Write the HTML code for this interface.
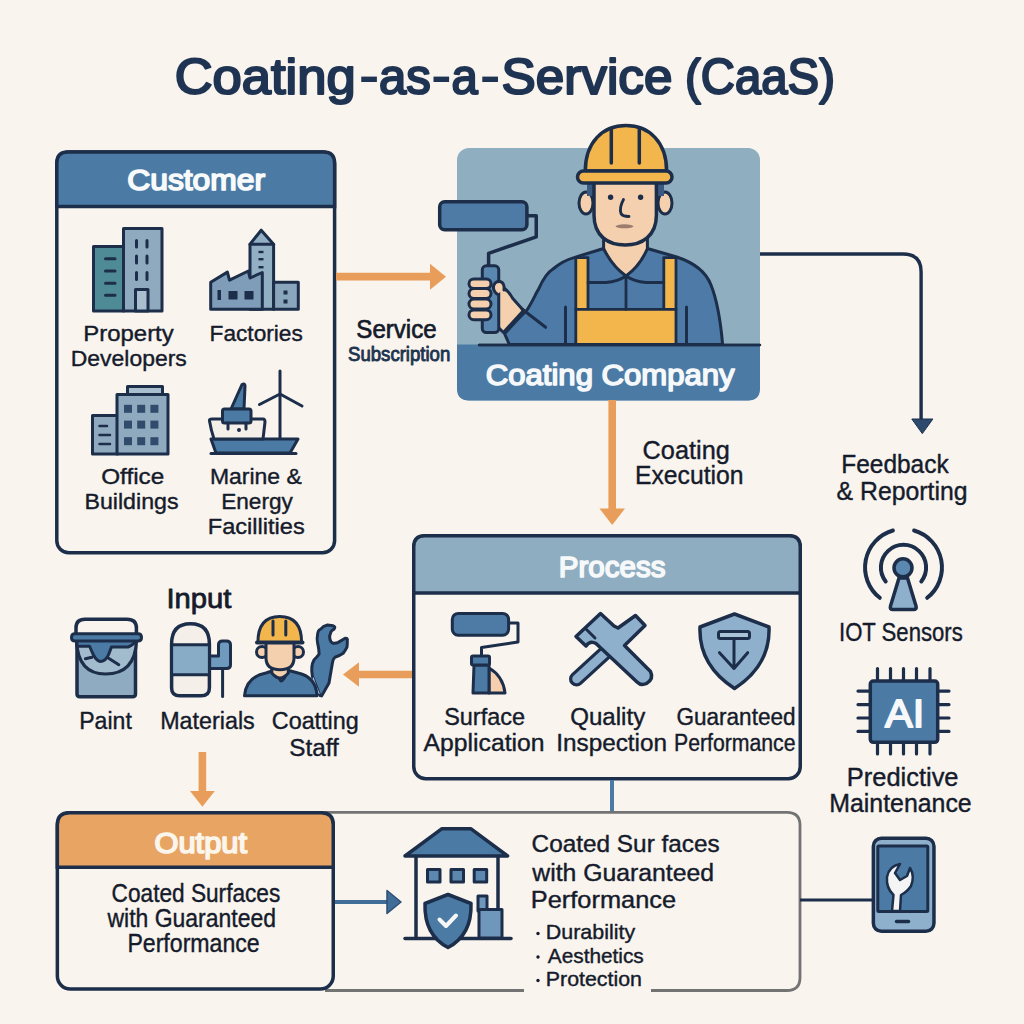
<!DOCTYPE html>
<html><head><meta charset="utf-8"><style>
html,body{margin:0;padding:0;background:#f9f4ee;}
svg{display:block;}
text{font-family:"Liberation Sans",sans-serif;}
</style></head><body>
<svg width="1024" height="1024" viewBox="0 0 1024 1024">
<rect width="1024" height="1024" fill="#f9f4ee"/>
<text transform="translate(174.70 93.70) scale(1.0594 1)" font-size="49.57" font-weight="normal" fill="#1f3352" stroke="#1f3352" stroke-width="2.20" stroke-linejoin="round">Coating</text>
<text transform="translate(379.10 93.70) scale(0.9897 1)" font-size="49.57" font-weight="normal" fill="#1f3352" stroke="#1f3352" stroke-width="2.20" stroke-linejoin="round">as</text>
<text transform="translate(451.60 93.70) scale(0.9526 1)" font-size="49.57" font-weight="normal" fill="#1f3352" stroke="#1f3352" stroke-width="2.20" stroke-linejoin="round">a</text>
<text transform="translate(501.50 93.70) scale(1.0345 1)" font-size="49.57" font-weight="normal" fill="#1f3352" stroke="#1f3352" stroke-width="2.20" stroke-linejoin="round">Service</text>
<text transform="translate(685.10 93.70) scale(0.9540 1)" font-size="49.57" font-weight="normal" fill="#1f3352" stroke="#1f3352" stroke-width="2.20" stroke-linejoin="round">(CaaS)</text>
<rect x="361.25" y="76.6" width="15.65" height="5.4" fill="#1f3352"/>
<rect x="433.5" y="76.6" width="15.60" height="5.4" fill="#1f3352"/>
<rect x="482.3" y="76.6" width="15.70" height="5.4" fill="#1f3352"/>
<rect x="56.8" y="152" width="277.8" height="400.8" rx="12" fill="#f9f4ee" stroke="#1c2e4a" stroke-width="3.5"/>
<path d="M56.8,206.6 V163 Q56.8,152 67.8,152 H323.6 Q334.6,152 334.6,163 V206.6 Z" fill="#4b7ba5" stroke="#1c2e4a" stroke-width="3.5"/>
<text transform="translate(127.25 190.00) scale(1.0553 1)" font-size="30.14" font-weight="normal" fill="#f8fafb" stroke="#f8fafb" stroke-width="1.70" stroke-linejoin="round">Customer</text>
<line x1="336" y1="276.6" x2="432" y2="276.6" stroke="#e89e5a" stroke-width="7.6"/>
<path d="M430,263.7 L446,276.7 L430,289.7 Z" fill="#e89e5a"/>
<rect x="457" y="148" width="303" height="252.5" rx="12" fill="#8faec0"/>
<path d="M457,344.5 H760 V388.5 Q760,400.5 748,400.5 H469 Q457,400.5 457,388.5 Z" fill="#4b7ba5"/>
<line x1="479" y1="344.9" x2="760" y2="344.9" stroke="#1c2e4a" stroke-width="2.5"/>
<text transform="translate(485.80 385.30) scale(1.0312 1)" font-size="30.14" font-weight="normal" fill="#f6f8fa" stroke="#f6f8fa" stroke-width="1.60" stroke-linejoin="round">Coating Company</text>
<line x1="612.2" y1="400" x2="612.2" y2="510" stroke="#e89e5a" stroke-width="7.6"/>
<path d="M599.5,508.4 L625,508.4 L612.2,525 Z" fill="#e89e5a"/>
<path d="M760,254 H903 Q921.1,254 921.1,272 V420" fill="none" stroke="#1c2e4a" stroke-width="3.4"/>
<path d="M911.8,419 L932.9,419 L922.3,433.6 Z" fill="#2d4a6e" stroke="#1c2e4a" stroke-width="1"/>
<rect x="413.75" y="535.75" width="386.5" height="243" rx="12" fill="#f9f4ee" stroke="#1c2e4a" stroke-width="3.5"/>
<path d="M413.75,593 V546.75 Q413.75,535.75 424.75,535.75 H789.25 Q800.25,535.75 800.25,546.75 V593 Z" fill="#8eadc0" stroke="#1c2e4a" stroke-width="3.5"/>
<text transform="translate(558.85 577.40) scale(0.9706 1)" font-size="30.43" font-weight="normal" fill="#f6f8fa" stroke="#f6f8fa" stroke-width="1.70" stroke-linejoin="round">Process</text>
<line x1="358" y1="674.5" x2="412" y2="674.5" stroke="#e89e5a" stroke-width="7.5"/>
<path d="M359,662.3 L343,674.5 L359,686.7 Z" fill="#e89e5a"/>
<line x1="202.4" y1="752" x2="202.4" y2="793" stroke="#e89e5a" stroke-width="7.6"/>
<path d="M190,791 L214.8,791 L202.4,806.8 Z" fill="#e89e5a"/>
<line x1="612" y1="780" x2="612" y2="813" stroke="#4a7aa5" stroke-width="4"/>
<path d="M325,812.3 H787 Q800,812.3 800,825.3 V977.5 Q800,990.5 787,990.5 H651 M524,990.5 H325" fill="none" stroke="#737373" stroke-width="2.8"/>
<line x1="800" y1="900" x2="872" y2="900" stroke="#1c2e4a" stroke-width="3"/>
<rect x="57.35" y="812.75" width="275.9" height="176.2" rx="13" fill="#f9f4ee" stroke="#1c2e4a" stroke-width="3.5"/>
<path d="M57.35,867.2 V824.75 Q57.35,812.75 69.35,812.75 H321.25 Q333.25,812.75 333.25,824.75 V867.2 Z" fill="#e8a462" stroke="#1c2e4a" stroke-width="3.5"/>
<text transform="translate(154.45 853.00) scale(1.0496 1)" font-size="29.42" font-weight="normal" fill="#fbf5ec" stroke="#fbf5ec" stroke-width="1.70" stroke-linejoin="round">Output</text>
<line x1="335" y1="902" x2="390" y2="902" stroke="#3f6d98" stroke-width="4"/>
<path d="M387,890.5 L401,902 L387,913.5 Z" fill="#3f6d98" stroke="#2d4f74" stroke-width="1.5" stroke-linejoin="round"/>
<text transform="translate(83.20 340.50) scale(1.0517 1)" font-size="22.80" font-weight="normal" fill="#151b2b" stroke="#151b2b" stroke-width="0.40" stroke-linejoin="round">Property</text>
<text transform="translate(70.80 365.50) scale(1.0060 1)" font-size="22.80" font-weight="normal" fill="#151b2b" stroke="#151b2b" stroke-width="0.40" stroke-linejoin="round">Developers</text>
<text transform="translate(209.60 341.00) scale(0.9942 1)" font-size="22.80" font-weight="normal" fill="#151b2b" stroke="#151b2b" stroke-width="0.40" stroke-linejoin="round">Factories</text>
<text transform="translate(101.20 484.40) scale(1.0653 1)" font-size="22.80" font-weight="normal" fill="#151b2b" stroke="#151b2b" stroke-width="0.40" stroke-linejoin="round">Office</text>
<text transform="translate(84.40 509.00) scale(1.0183 1)" font-size="22.80" font-weight="normal" fill="#151b2b" stroke="#151b2b" stroke-width="0.40" stroke-linejoin="round">Buildings</text>
<text transform="translate(210.00 484.40) scale(1.0062 1)" font-size="22.80" font-weight="normal" fill="#151b2b" stroke="#151b2b" stroke-width="0.40" stroke-linejoin="round">Marine &amp;</text>
<text transform="translate(221.20 509.00) scale(0.9914 1)" font-size="22.80" font-weight="normal" fill="#151b2b" stroke="#151b2b" stroke-width="0.40" stroke-linejoin="round">Energy</text>
<text transform="translate(207.80 534.00) scale(1.0348 1)" font-size="22.80" font-weight="normal" fill="#151b2b" stroke="#151b2b" stroke-width="0.40" stroke-linejoin="round">Facillities</text>
<text transform="translate(356.35 338.00) scale(0.9548 1)" font-size="25.22" font-weight="normal" fill="#151b2b" stroke="#151b2b" stroke-width="0.70" stroke-linejoin="round">Service</text>
<text transform="translate(348.05 361.00) scale(0.9432 1)" font-size="19.71" font-weight="normal" fill="#1e3550" stroke="#1e3550" stroke-width="0.90" stroke-linejoin="round">Subscription</text>
<text transform="translate(642.60 458.60) scale(0.9617 1)" font-size="26.30" font-weight="normal" fill="#151b2b" stroke="#151b2b" stroke-width="0.40" stroke-linejoin="round">Coating</text>
<text transform="translate(635.00 483.80) scale(0.9400 1)" font-size="26.30" font-weight="normal" fill="#151b2b" stroke="#151b2b" stroke-width="0.40" stroke-linejoin="round">Execution</text>
<text transform="translate(841.20 473.00) scale(0.9722 1)" font-size="25.19" font-weight="normal" fill="#151b2b" stroke="#151b2b" stroke-width="0.40" stroke-linejoin="round">Feedback</text>
<text transform="translate(836.60 499.50) scale(0.9848 1)" font-size="25.19" font-weight="normal" fill="#151b2b" stroke="#151b2b" stroke-width="0.40" stroke-linejoin="round">&amp; Reporting</text>
<text transform="translate(166.40 608.00) scale(1.0449 1)" font-size="27.97" font-weight="normal" fill="#151b2b" stroke="#151b2b" stroke-width="0.80" stroke-linejoin="round">Input</text>
<text transform="translate(79.20 729.40) scale(0.9463 1)" font-size="24.39" font-weight="normal" fill="#151b2b" stroke="#151b2b" stroke-width="0.40" stroke-linejoin="round">Paint</text>
<text transform="translate(160.20 729.00) scale(0.9560 1)" font-size="24.39" font-weight="normal" fill="#151b2b" stroke="#151b2b" stroke-width="0.40" stroke-linejoin="round">Materials</text>
<text transform="translate(271.80 729.00) scale(0.9575 1)" font-size="24.39" font-weight="normal" fill="#151b2b" stroke="#151b2b" stroke-width="0.40" stroke-linejoin="round">Coatting</text>
<text transform="translate(289.20 755.80) scale(0.9963 1)" font-size="24.39" font-weight="normal" fill="#151b2b" stroke="#151b2b" stroke-width="0.40" stroke-linejoin="round">Staff</text>
<text transform="translate(444.20 725.00) scale(0.9676 1)" font-size="24.23" font-weight="normal" fill="#151b2b" stroke="#151b2b" stroke-width="0.40" stroke-linejoin="round">Surface</text>
<text transform="translate(423.60 750.50) scale(1.0207 1)" font-size="24.23" font-weight="normal" fill="#151b2b" stroke="#151b2b" stroke-width="0.40" stroke-linejoin="round">Application</text>
<text transform="translate(570.20 725.00) scale(0.9946 1)" font-size="24.23" font-weight="normal" fill="#151b2b" stroke="#151b2b" stroke-width="0.40" stroke-linejoin="round">Quality</text>
<text transform="translate(556.20 750.50) scale(1.0048 1)" font-size="24.23" font-weight="normal" fill="#151b2b" stroke="#151b2b" stroke-width="0.40" stroke-linejoin="round">Inspection</text>
<text transform="translate(676.40 725.00) scale(0.9313 1)" font-size="24.23" font-weight="normal" fill="#151b2b" stroke="#151b2b" stroke-width="0.40" stroke-linejoin="round">Guaranteed</text>
<text transform="translate(674.00 750.50) scale(0.8765 1)" font-size="24.23" font-weight="normal" fill="#151b2b" stroke="#151b2b" stroke-width="0.40" stroke-linejoin="round">Performance</text>
<text transform="translate(839.00 641.00) scale(0.8675 1)" font-size="25.51" font-weight="normal" fill="#151b2b" stroke="#151b2b" stroke-width="0.40" stroke-linejoin="round">IOT Sensors</text>
<text transform="translate(846.80 786.00) scale(0.9982 1)" font-size="25.51" font-weight="normal" fill="#151b2b" stroke="#151b2b" stroke-width="0.40" stroke-linejoin="round">Predictive</text>
<text transform="translate(829.20 812.00) scale(0.9763 1)" font-size="25.51" font-weight="normal" fill="#151b2b" stroke="#151b2b" stroke-width="0.40" stroke-linejoin="round">Maintenance</text>
<text transform="translate(111.60 901.80) scale(0.8884 1)" font-size="25.51" font-weight="normal" fill="#151b2b" stroke="#151b2b" stroke-width="0.40" stroke-linejoin="round">Coated Surfaces</text>
<text transform="translate(107.45 927.20) scale(0.9005 1)" font-size="25.51" font-weight="normal" fill="#151b2b" stroke="#151b2b" stroke-width="0.40" stroke-linejoin="round">with Guaranteed</text>
<text transform="translate(127.40 951.60) scale(0.9067 1)" font-size="25.51" font-weight="normal" fill="#151b2b" stroke="#151b2b" stroke-width="0.40" stroke-linejoin="round">Performance</text>
<text transform="translate(531.60 851.80) scale(1.0198 1)" font-size="23.88" font-weight="normal" fill="#151b2b" stroke="#151b2b" stroke-width="0.40" stroke-linejoin="round">Coated Sur faces</text>
<text transform="translate(532.25 880.50) scale(1.0382 1)" font-size="23.88" font-weight="normal" fill="#151b2b" stroke="#151b2b" stroke-width="0.40" stroke-linejoin="round">with Guaranteed</text>
<text transform="translate(530.80 908.20) scale(1.0634 1)" font-size="23.88" font-weight="normal" fill="#151b2b" stroke="#151b2b" stroke-width="0.40" stroke-linejoin="round">Performance</text>
<text transform="translate(545.80 939.00) scale(1.0263 1)" font-size="20.90" font-weight="normal" fill="#151b2b" stroke="#151b2b" stroke-width="0.40" stroke-linejoin="round">Durability</text>
<text transform="translate(547.80 962.50) scale(0.9958 1)" font-size="20.90" font-weight="normal" fill="#151b2b" stroke="#151b2b" stroke-width="0.40" stroke-linejoin="round">Aesthetics</text>
<text transform="translate(545.80 986.00) scale(1.0225 1)" font-size="20.90" font-weight="normal" fill="#151b2b" stroke="#151b2b" stroke-width="0.40" stroke-linejoin="round">Protection</text>
<circle cx="538" cy="933.5" r="1.7" fill="#151b2b"/>
<circle cx="538" cy="957" r="1.7" fill="#151b2b"/>
<circle cx="538" cy="980.5" r="1.7" fill="#151b2b"/>
<g id="icons" stroke-linejoin="round" stroke-linecap="round">
<!-- Property developers -->
<g stroke="#1c2e4a" stroke-width="3">
  <rect x="93.5" y="246.5" width="30" height="64.5" fill="#4f8a97"/>
  <rect x="123.5" y="228.5" width="38.5" height="82.5" fill="#8fa9bf"/>
  <rect x="135.5" y="289.5" width="12.5" height="21.5" fill="#a9bfd0"/>
</g>
<g stroke="#1c2e4a" stroke-width="3" stroke-linecap="round">
  <path d="M105.5,258.8 H115 M105.5,271 H115 M105.5,283.3 H115 M105.5,295.2 H115"/>
  <path d="M136.5,240.5 V247 M147,240.5 V247 M136.5,256 V263 M147,256 V263 M136.5,272.5 V279.5 M147,272.5 V279.5"/>
</g>
<!-- Factory -->
<g stroke="#1c2e4a" stroke-width="3">
  <path d="M250,309.2 V244.2 L261.2,230.2 L273.6,244.2 V309.2 Z" fill="#93afc4"/>
  <path d="M210.7,309.2 V282.3 L227.4,272.1 L229.5,280.2 L248.3,271 L250,278 L262.3,272.5 V309.2 Z" fill="#7f9db8"/>
  <path d="M250,244.2 H273.6"/>
  <rect x="273.6" y="282.3" width="24.7" height="26.9" fill="#8aa6bd"/>
</g>
<g fill="#1c2e4a">
  <rect x="217.5" y="290" width="3.5" height="10"/>
  <rect x="228.5" y="291" width="9" height="8.5"/>
  <rect x="244.5" y="291" width="9" height="8.5"/>
  <rect x="258.5" y="250.8" width="5" height="2.4"/>
  <rect x="258.5" y="258" width="5" height="2.4"/>
  <rect x="258.5" y="266" width="5" height="2.4"/>
  <rect x="283.5" y="290.5" width="4" height="4"/>
  <rect x="283.5" y="299.5" width="4" height="4"/>
</g>
<!-- Office building -->
<g stroke="#1c2e4a" stroke-width="3">
  <rect x="127.5" y="386.5" width="35" height="8" fill="#a9bfd0"/>
  <rect x="92.5" y="415.5" width="25" height="38.5" fill="#8fa9bf"/>
  <rect x="117" y="394.5" width="51" height="59.5" fill="#8fa9bf"/>
</g>
<g fill="#304b6c">
  <rect x="124" y="404.8" width="8" height="8"/><rect x="137.2" y="404.8" width="8" height="8"/><rect x="150.4" y="404.8" width="8" height="8"/>
  <rect x="124" y="420.6" width="8" height="8"/><rect x="137.2" y="420.6" width="8" height="8"/><rect x="150.4" y="420.6" width="8" height="8"/>
  <rect x="124" y="437.2" width="8" height="8"/><rect x="137.2" y="437.2" width="8" height="8"/><rect x="150.4" y="437.2" width="8" height="8"/>
</g>
<path d="M99.5,426 H107 M99.5,435 H110 M99.5,444 H110" stroke="#1c2e4a" stroke-width="2.5"/>
<!-- Marine & energy -->
<g stroke="#1c2e4a" stroke-width="3">
  <path d="M280,371 V439" fill="none"/>
  <path d="M259.5,404.5 L280,394 L302,406" fill="none"/>
  <path d="M231,409 L242,384.5 Q245,383 245,386 L244,409 Z" fill="#4b7ba5"/>
  <path d="M211,439 L298,439 L290,453 L216,453 Z" fill="#4b7ba5"/>
  <path d="M209.5,421 Q209,419 212,419 L263,419 Q265,419 265,422 L263,439 L214,439 Q211,430 209.5,421 Z" fill="#f4efe8"/>
  <rect x="222.5" y="409" width="28.5" height="14" rx="2" fill="#4b7ba5"/>
  <path d="M228,423 V429 M246,423 V429" fill="none"/>
  <path d="M211,453.5 L296,453.5" fill="none"/>
</g>
<circle cx="239" cy="430" r="2" fill="#1c2e4a"/>

<!-- ===== Coating worker ===== -->
<g stroke="#1c2e4a" stroke-linejoin="round" stroke-linecap="round">
  <!-- roller -->
  <path d="M527,215.8 H536.25 V236.9 L488.6,253.3 V267" fill="none" stroke-width="3.5"/>
  <rect x="439.7" y="201.7" width="87.2" height="28.1" rx="5" fill="#4e7ba5" stroke-width="3.5"/>
  <!-- body -->
  <path d="M509.3,344.5 L504.6,333.75 C515,322 523,314 527,310 C533,301 536,293 538.6,289.2 C543,279 548,272 553,269 C560,263 567,259.5 574,257.6 L603.6,248.5 L626,276 L647.4,248.5 L676.7,257 C695,263 706,272 711,285 C717,300 720.5,320 722.6,344.5 Z" fill="#4d7aa6" stroke-width="3"/>
  <!-- neck -->
  <path d="M603.6,236 V248.5 Q612,266 626,276 Q640,266 647.4,248.5 V236 Z" fill="#f5d0ae" stroke-width="3"/>
  <!-- straps and bib -->
  <rect x="575.8" y="257.6" width="12.2" height="51.8" fill="#f2b64c" stroke-width="2.8"/>
  <rect x="663.8" y="257.6" width="12.2" height="51.8" fill="#f2b64c" stroke-width="2.8"/>
  <rect x="575.8" y="309.4" width="100.2" height="35" fill="#f2b64c" stroke-width="2.8"/>
  <path d="M626,276 V309.4 M588,282.5 H606 Q618,281.5 626,276 Q634,281.5 646,282.5 H663.8" fill="none" stroke-width="2.8"/>
  <path d="M565.5,307 V344 M686.5,307 V344" fill="none" stroke-width="3"/>
  <!-- forearm skin -->
  <path d="M494,283.5 Q507,287 512.8,298.6 L523.5,310.5 L503.4,332.5 L497,326 L497,292 Z" fill="#f5d0ae" stroke-width="3"/>
  <path d="M522,309 L545.6,327.3" fill="none" stroke-width="3"/>
  <!-- grip -->
  <rect x="482.3" y="265.8" width="16.45" height="66.8" rx="4" fill="#5a87b0" stroke-width="3"/>
  <!-- fingers -->
  <rect x="469" y="279" width="22" height="9.5" rx="4.7" fill="#f5d0ae" stroke-width="3"/>
  <rect x="469" y="288.5" width="22" height="10" rx="5" fill="#f5d0ae" stroke-width="3"/>
  <rect x="469" y="299" width="22" height="10" rx="5" fill="#f5d0ae" stroke-width="3"/>
  <rect x="469" y="310" width="22" height="9.7" rx="4.8" fill="#f5d0ae" stroke-width="3"/>
  <path d="M497,294 Q493,291 493.5,286 Q495,281 500,281.5 Q505,283 504,290" fill="#f5d0ae" stroke-width="3"/>
  <!-- ears -->
  <ellipse cx="586" cy="203" rx="7" ry="11" fill="#f5d0ae" stroke-width="3"/>
  <ellipse cx="665" cy="203" rx="7" ry="11" fill="#f5d0ae" stroke-width="3"/>
  <rect x="587" y="182" width="8" height="14" fill="#3a5a82" stroke="none"/>
  <rect x="656" y="182" width="8" height="14" fill="#3a5a82" stroke="none"/>
  <!-- face -->
  <path d="M594,182 V215 C594,236 608,245 625.2,245 C642,245 656.4,236 656.4,215 V182 Z" fill="#f5d0ae" stroke-width="3.5"/>
  <circle cx="610.6" cy="197.2" r="2.7" fill="#1c2e4a" stroke="none"/>
  <circle cx="640.6" cy="197.2" r="2.7" fill="#1c2e4a" stroke="none"/>
  <path d="M623.5,199.5 Q619,208 621,213.5 Q622.5,216.5 629,216.5" fill="none" stroke-width="2.8"/>
  <ellipse cx="624.5" cy="226.3" rx="9" ry="2" fill="#8a6f60" stroke="none" opacity="0.85"/>
  <!-- helmet -->
  <path d="M585.3,171 C585.3,142 603,125.5 626,125.5 C649,125.5 666.6,142 666.6,171 Z" fill="#f2b64c" stroke-width="3.5"/>
  <path d="M611.3,163 V129.5 M639.3,163 V129.5" fill="none" stroke-width="3.5"/>
  <rect x="577.5" y="171" width="94.5" height="12" rx="6" fill="#f2b64c" stroke-width="3.5"/>
</g>
<line x1="479" y1="344.9" x2="760" y2="344.9" stroke="#1c2e4a" stroke-width="2.5"/>

<!-- ===== Paint bucket ===== -->
<g stroke="#1c2e4a" stroke-linejoin="round" stroke-linecap="round">
  <path d="M76,636 V628 Q76,619.3 85,619.3 H127 Q136.4,619.3 136.4,628 V636" fill="none" stroke-width="3.5"/>
  <path d="M77,641 V694 Q77,696.7 80,696.7 H132.5 Q135.5,696.7 135.5,694 V641 Z" fill="#8eabc2" stroke-width="3.5"/>
  <path d="M76.5,641 Q78,674 105.5,674 Q135,674 136.5,641 Z" fill="#a2bccd" stroke-width="3.2"/>
  <path d="M77,646.2 L89.6,646.2 Q92,652 93.5,655 Q97,661.5 100.5,661.5 Q106,661 108.6,654.5 L111.4,647.1 L128,647 Q134,645 135.5,640.6 L135.5,637 L77,637 Z" fill="#4b7ba5" stroke-width="3"/>
  <path d="M85.4,658.7 L91.9,657.3 M108.6,658.2 L118.8,664.7" fill="none" stroke-width="3"/>
  <path d="M71.5,637.5 Q71.5,633.7 75,633.7 H138 Q141.5,633.7 141.5,637.5 Q141.5,641 138,641 H75 Q71.5,641 71.5,637.5 Z" fill="#4b7ba5" stroke-width="3"/>
</g>
<!-- ===== Materials ===== -->
<g stroke="#1c2e4a" stroke-linejoin="round" stroke-linecap="round">
  <path d="M209.4,656 H218.5 V645 Q218.5,641 222.5,641 H226.5 Q230.5,641 230.5,645 V665 Q230.5,668.6 226.5,668.6 H209.4 Z" fill="#6d9abd" stroke-width="3"/>
  <path d="M222.6,668.6 V696.5" fill="none" stroke-width="3"/>
  <path d="M171.6,644 Q171.6,623.7 190.5,623.7 Q209.4,623.7 209.4,644 V688 Q209.4,695.8 201,695.8 H180 Q171.6,695.8 171.6,688 Z" fill="#f4efe8" stroke-width="3.5"/>
  <rect x="171.6" y="644.8" width="37.8" height="29.9" fill="#88abc6" stroke-width="3"/>
</g>
<!-- ===== Staff worker ===== -->
<g stroke="#1c2e4a" stroke-linejoin="round" stroke-linecap="round">
  <path d="M319.9,695.5 L312.4,676.4 Q310.5,666 314.1,659.8 Q318,656 319.1,654 Q319,650 318.3,646.5 Q316.5,638 317.4,636.6 Q317.5,630 320.7,629.1 Q323,626 327.4,625 L333.2,625.8 Q336,627 334,629.1 Q330.7,631 330.7,632.8 Q329,636 329.9,639 Q330.5,642.5 333.2,643.2 Q336,643.5 338.2,642.4 L345.2,638.2 Q347.5,638 347.3,639.9 Q347.5,644 346.9,647.4 Q345,651 343.2,653.2 Q339,656 334.9,657.3 Q332.8,659 332.4,663.1 L329,683 L321.6,695.9 Z" fill="#4b7ba5" stroke-width="3"/><path d="M313.5,677 Q316,686 320,694 L317,693 Q313,687 312,680 Z" fill="#a9c6dc" stroke="none"/>
  <path d="M244.5,695.8 Q246,677 266,673 L275,670 Q280,681 280.5,681 Q285,681 287,670 L298,673 Q316,677 317,695.8 Z" fill="#4b7ba5" stroke-width="3"/>
  <path d="M271.8,662 V673 Q280,683 288.3,673 V662 Z" fill="#f5d0ae" stroke-width="3"/>
  <circle cx="262" cy="652" r="5.5" fill="#f5d0ae" stroke-width="3"/>
  <circle cx="298" cy="652" r="5.5" fill="#f5d0ae" stroke-width="3"/>
  <path d="M266,642.5 V658 Q266,669.7 280,669.7 Q294,669.7 294,658 V642.5 Z" fill="#f5d0ae" stroke-width="3"/>
  <path d="M257.9,642.5 Q257.9,616.4 279.75,616.4 Q301.6,616.4 301.6,642.5 Z" fill="#f2b64c" stroke-width="3"/>
  <path d="M257,642.5 H302.5" stroke-width="4"/>
  <path d="M273,621 V635 M285.8,621 V635" stroke-width="3"/>
</g>
<!-- ===== Process: roller ===== -->
<g stroke="#1c2e4a" stroke-linejoin="round" stroke-linecap="round">
  <path d="M508.6,623 H518 V642 L481.5,647.5 V657" fill="none" stroke-width="3"/>
  <rect x="452.3" y="613.4" width="56.3" height="21.8" rx="6" fill="#4e7ba5" stroke-width="3"/>
  <path d="M489,668 Q503,676 505,693 H489 Z" fill="#f5cfae" stroke-width="3"/>
  <path d="M474,665 L473,693 H489 V665 Z" fill="#4b7ba5" stroke-width="3"/>
  <rect x="471.5" y="656" width="18" height="9" rx="1.5" fill="#4b7ba5" stroke-width="3"/>
</g>
<!-- ===== Process: tools ===== -->
<g stroke-linecap="round" stroke-linejoin="round">
  <line x1="576.5" y1="679" x2="606" y2="652" stroke="#1c2e4a" stroke-width="15"/>
  <line x1="576.5" y1="679" x2="606" y2="652" stroke="#8fb0cc" stroke-width="8.5"/>
  <path d="M576,636.5 L600.5,613.5 L614,626 L618,628 L635.5,615.5 L645,625.5 L624.5,645.5 L650.5,671.5 Q654,679 646.5,683.5 Q641,686 637,682 L596,643.5 Q590,640 586,646 Z" fill="#8fb0cc" stroke="#1c2e4a" stroke-width="3.5"/>
  <path d="M586.5,629.5 L595,638" fill="none" stroke="#1c2e4a" stroke-width="3"/>
</g>
<!-- ===== Process: shield ===== -->
<g stroke="#1c2e4a" stroke-linejoin="round" stroke-linecap="round">
  <path d="M734.5,614 L769,627 Q770.5,665 734.5,688.5 Q698.5,665 700,627 Z" fill="#8fb0cc" stroke-width="3.5"/>
  <rect x="718.5" y="631.6" width="31" height="7" rx="2" fill="#aac3d6" stroke-width="3"/>
  <path d="M734,638.7 V668.5 M719.5,652.7 L734,668.5 L747.7,652.7" fill="none" stroke-width="3"/>
</g>
<!-- ===== IOT ===== -->
<g stroke="#1c2e4a" stroke-linejoin="round" stroke-linecap="round" fill="none" stroke-width="4">
  <path d="M892.9,530.5 A38.5,38.5 0 0 0 879.8,597.8"/>
  <path d="M914.1,530.5 A38.5,38.5 0 0 1 927.2,597.8"/>
  <path d="M885.7,581.4 A22.6,22.6 0 1 1 921.3,581.4"/>
  <path d="M899,578 L890.5,606 Q889.5,609.5 893,609.5 H913.5 Q917,609.5 916,606 L907.5,578 Z" fill="#8fb0cc" stroke-width="3.5"/>
  <circle cx="903" cy="567.8" r="9" fill="#5a88b0" stroke-width="3.5"/>
</g>
<!-- ===== AI chip ===== -->
<g stroke="#1c2e4a" stroke-linecap="round" stroke-width="3.2">
  <path d="M877.5,668.5 V680 M890.5,668.5 V680 M903.5,668.5 V680 M916.5,668.5 V680 M930,668.5 V680"/>
  <path d="M877.5,743 V754 M890.5,743 V754 M903.5,743 V754 M916.5,743 V754 M930,743 V754"/>
  <path d="M858,691.1 H869 M858,704.6 H869 M858,718 H869 M858,731.4 H869"/>
  <path d="M938.5,691.1 H949 M938.5,704.6 H949 M938.5,718 H949 M938.5,731.4 H949"/>
  <rect x="870.3" y="681" width="67.4" height="61.3" rx="3" fill="#4b7ba5" stroke-width="3.5"/>
</g>
<!-- ===== Phone ===== -->
<g stroke="#1c2e4a" stroke-linejoin="round" stroke-linecap="round">
  <rect x="873.35" y="838.25" width="60.6" height="93" rx="8" fill="#8fb0cc" stroke-width="3.5"/>
  <rect x="877.8" y="846" width="50" height="65.5" rx="1" fill="#4b7ba5" stroke-width="3"/>
  <path d="M896.5,921.6 H908.5" stroke-width="3.5"/>
  <path d="M892,911 L893.5,895 Q886,888 887,877 Q889,866 900,864 L895,873 L900,880 L907,876 L910,868 Q915,876 911,886 Q907,892 901,895 L900,911 Z" fill="#f4f4f4" stroke-width="2.5"/>
</g>
<!-- ===== House ===== -->
<g stroke="#1c2e4a" stroke-linejoin="round" stroke-linecap="round">
  <path d="M416,856 V938 M498,856 V910" stroke-width="3.5"/>
  <path d="M405,938.5 H511" stroke-width="3.5"/>
  <path d="M442,828.7 H470.7 L507.6,856 H405 Z" fill="#4b7ba5" stroke-width="3.5"/>
  <rect x="427.5" y="869.5" width="12.5" height="12.5" fill="#5c88b0" stroke-width="3"/>
  <rect x="451" y="869.5" width="12.5" height="12.5" fill="#5c88b0" stroke-width="3"/>
  <rect x="474.2" y="869.5" width="12.5" height="12.5" fill="#5c88b0" stroke-width="3"/>
  <rect x="478" y="896" width="9" height="15" fill="#6f96bb" stroke-width="3"/>
  <rect x="479" y="909.5" width="23" height="28.5" fill="#6f96bb" stroke-width="3"/>
  <path d="M448,894.5 L471,903.5 Q472,935 448,947.5 Q424,935 425,903.5 Z" fill="#4b7ba5" stroke-width="3.5"/>
  <path d="M439.5,919.5 L446,926 L456,915.5" fill="none" stroke="#f6f6f6" stroke-width="4"/>
</g>

</g>

<text transform="translate(885.10 727.00) scale(1.0601 1)" font-size="39.13" font-weight="normal" fill="#f6f8fa" stroke="#f6f8fa" stroke-width="1.80" stroke-linejoin="round">AI</text>
</svg>
</body></html>
